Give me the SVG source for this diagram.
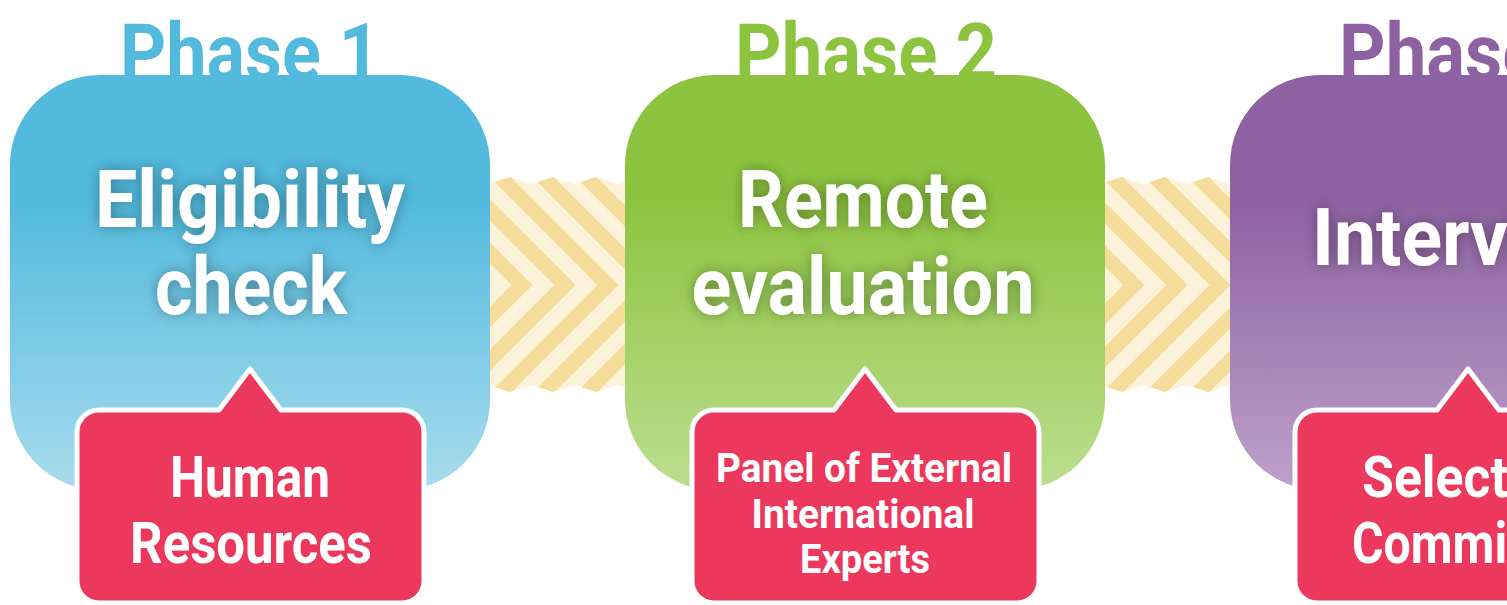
<svg xmlns="http://www.w3.org/2000/svg" xmlns:xlink="http://www.w3.org/1999/xlink" width="1507" height="605" viewBox="0 0 1507 605">
<style>
.phase{font-family:"Roboto","Liberation Sans",sans-serif;font-weight:700;font-size:80px;text-anchor:middle}
.main{font-family:"Roboto","Liberation Sans",sans-serif;font-weight:700;font-size:80px;fill:#fff;text-anchor:middle}
.sub{font-family:"Roboto","Liberation Sans",sans-serif;font-weight:700;font-size:57px;fill:#fff;text-anchor:middle}
.sub2{font-family:"Roboto","Liberation Sans",sans-serif;font-weight:700;font-size:40px;fill:#fff;text-anchor:middle}
.callout{fill:#EC385C;stroke:#fff;stroke-width:5;stroke-linejoin:round}
.stripe{fill:none;stroke:#F5DC9A;stroke-width:15;stroke-linejoin:miter}
</style>
<defs>
<linearGradient id="gBlue" x1="0" y1="0" x2="0" y2="1">
<stop offset="0" stop-color="#52BADD"/><stop offset="0.3" stop-color="#52BADD"/><stop offset="1" stop-color="#A8DBEE"/>
</linearGradient>
<linearGradient id="gGreen" x1="0" y1="0" x2="0" y2="1">
<stop offset="0" stop-color="#8DC43F"/><stop offset="0.3" stop-color="#8DC43F"/><stop offset="1" stop-color="#BCDE90"/>
</linearGradient>
<linearGradient id="gPurple" x1="0" y1="0" x2="0" y2="1">
<stop offset="0" stop-color="#8E61A2"/><stop offset="0.3" stop-color="#8E61A2"/><stop offset="1" stop-color="#BDA2CC"/>
</linearGradient>
<filter id="glow" x="-20%" y="-50%" width="140%" height="200%">
<feGaussianBlur in="SourceAlpha" stdDeviation="7"/>
<feComponentTransfer><feFuncA type="linear" slope="0.35"/></feComponentTransfer>
<feMerge><feMergeNode/><feMergeNode in="SourceGraphic"/></feMerge>
</filter>
<clipPath id="chevClip">
<polygon points="488,184 510,177 532,184 553,177 575,184 596,177 618,184 640,177 640,392 618,385 596,392 575,385 553,392 532,385 510,392 488,385"/>
</clipPath>
<g id="chev">
<g clip-path="url(#chevClip)">
<rect x="486" y="170" width="146" height="230" fill="#FCF2DA"/>
<polyline class="stripe" points="412,175 522,285 412,395"/>
<polyline class="stripe" points="455,175 565,285 455,395"/>
<polyline class="stripe" points="498,175 608,285 498,395"/>
<polyline class="stripe" points="541,175 651,285 541,395"/>
<polyline class="stripe" points="584,175 694,285 584,395"/>
</g>
</g>
</defs>
<rect width="1507" height="605" fill="#fff"/>
<g id="connectors">
<use xlink:href="#chev" href="#chev"/>
<use xlink:href="#chev" href="#chev" transform="translate(612,0)"/>
</g>
<g id="phase1">
<text class="phase" x="250" y="80" fill="#52BADD" textLength="260" lengthAdjust="spacingAndGlyphs">Phase 1</text>
<rect x="10" y="75" width="480" height="415" rx="90" ry="90" fill="url(#gBlue)"/>
<g filter="url(#glow)">
<text class="main" x="250" y="227" textLength="310" lengthAdjust="spacingAndGlyphs">Eligibility</text>
<text class="main" x="251" y="314" textLength="192" lengthAdjust="spacingAndGlyphs">check</text>
</g>
<path class="callout" d="M99,410 H219 L250,369 L281,410 H402 A22 22 0 0 1 424 432 V581 A22 22 0 0 1 402 603 H99 A22 22 0 0 1 77 581 V432 A22 22 0 0 1 99 410 Z"/>
<text class="sub" x="250" y="497" textLength="160" lengthAdjust="spacingAndGlyphs">Human</text>
<text class="sub" x="251" y="563" textLength="242" lengthAdjust="spacingAndGlyphs">Resources</text>
</g>
<g id="phase2">
<text class="phase" x="866" y="80" fill="#8DC43F" textLength="262" lengthAdjust="spacingAndGlyphs">Phase 2</text>
<rect x="625" y="75" width="480" height="415" rx="90" ry="90" fill="url(#gGreen)"/>
<g filter="url(#glow)">
<text class="main" x="863" y="227" textLength="250" lengthAdjust="spacingAndGlyphs">Remote</text>
<text class="main" x="863" y="314" textLength="343" lengthAdjust="spacingAndGlyphs">evaluation</text>
</g>
<path class="callout" transform="translate(615,0)" d="M99,410 H219 L250,369 L281,410 H402 A22 22 0 0 1 424 432 V581 A22 22 0 0 1 402 603 H99 A22 22 0 0 1 77 581 V432 A22 22 0 0 1 99 410 Z"/>
<text class="sub2" x="864" y="482" textLength="296" lengthAdjust="spacingAndGlyphs">Panel of External</text>
<text class="sub2" x="863" y="528" textLength="223" lengthAdjust="spacingAndGlyphs">International</text>
<text class="sub2" x="865" y="573" textLength="130" lengthAdjust="spacingAndGlyphs">Experts</text>
</g>
<g id="phase3">
<text class="phase" x="1470" y="80" fill="#8E61A2" textLength="262" lengthAdjust="spacingAndGlyphs">Phase 3</text>
<rect x="1230" y="75" width="480" height="415" rx="90" ry="90" fill="url(#gPurple)"/>
<g filter="url(#glow)">
<text class="main" x="1312" y="265" style="text-anchor:start" textLength="350" lengthAdjust="spacingAndGlyphs">Interviews</text>
</g>
<path class="callout" transform="translate(1218,0)" d="M99,410 H219 L250,369 L281,410 H402 A22 22 0 0 1 424 432 V581 A22 22 0 0 1 402 603 H99 A22 22 0 0 1 77 581 V432 A22 22 0 0 1 99 410 Z"/>
<text class="sub" x="1362" y="497" style="text-anchor:start" textLength="218" lengthAdjust="spacingAndGlyphs">Selection</text>
<text class="sub" x="1352" y="563" style="text-anchor:start" textLength="240" lengthAdjust="spacingAndGlyphs">Committee</text>
</g>
</svg>
